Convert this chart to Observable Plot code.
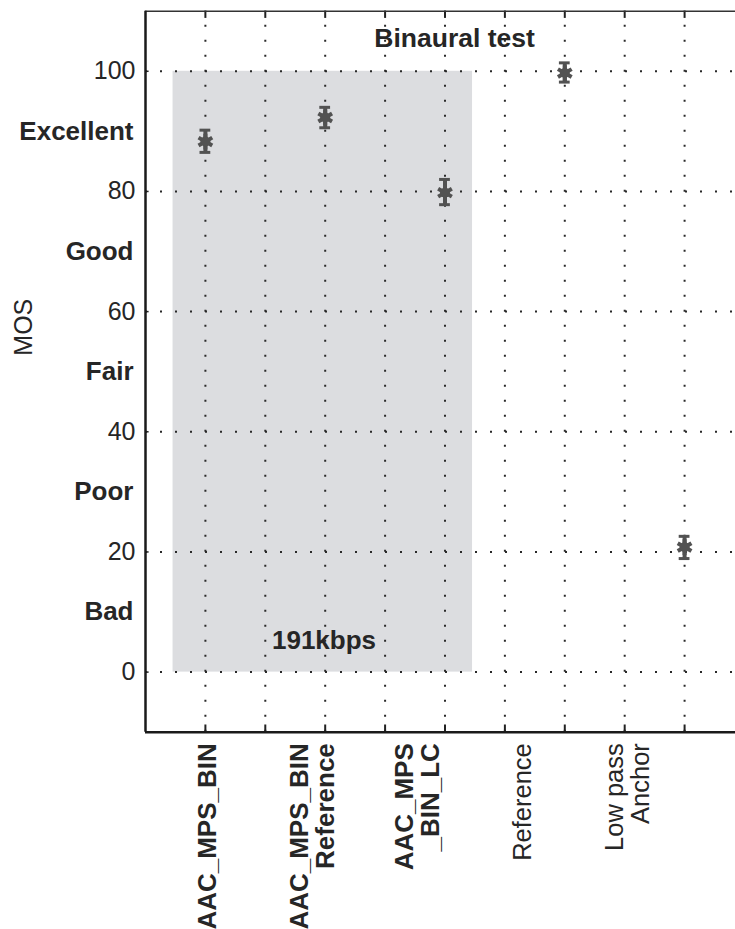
<!DOCTYPE html>
<html>
<head>
<meta charset="utf-8">
<script src="https://cdn.jsdelivr.net/npm/d3@7"></script>
<script src="https://cdn.jsdelivr.net/npm/@observablehq/plot@0.6"></script>
<style>
  html, body { margin: 0; padding: 0; background: #fff; overflow: hidden; }
  svg { display: block; }
</style>
</head>
<body>
<div id="chart"></div>
<script>
// Listening-test results: mean opinion score with confidence interval per condition
const conditions = ["AAC_MPS_BIN", "AAC_MPS_BIN\nReference", "AAC_MPS\n_BIN_LC", "Reference", "Low pass\nAnchor"];
const boldLabel = [true, true, true, false, false];
const mos = [88.3, 92.3, 79.8, 99.7, 20.8];
const ciLow = [86.5, 90.6, 77.8, 98.2, 18.9];
const ciHigh = [90.2, 94.0, 82.0, 101.4, 22.6];

const yTicks = [0, 20, 40, 60, 80, 100];
const qualityLabels = ["Bad", "Poor", "Fair", "Good", "Excellent"];
const qualityLevels = [10, 30, 50, 70, 90];
const gridX = [1, 1.5, 2, 2.5, 3, 3.5, 4, 4.5, 5];

const title = "Binaural test";
const bitrateNote = "191kbps";
const yLabel = "MOS";

const points = conditions.map((c, i) => ({
  pos: i + 1, label: c, bold: boldLabel[i], mos: mos[i], lo: ciLow[i], hi: ciHigh[i]
}));
// condition names sit on their own, slightly narrower spacing under the axis
const labelRows = points.map((d, i) => ({...d, lx: 1.017 + i * 0.877}));
const quality = qualityLabels.map((q, i) => ({q, v: qualityLevels[i]}));

const ink = "#262626";
const markColor = "#525252";
const dots = {stroke: "#2a2a2a", strokeWidth: 2, strokeDasharray: "2 13"};

const chart = Plot.plot({
  width: 735,
  height: 929,
  marginLeft: 145,
  marginRight: 0,
  marginTop: 10.7,
  marginBottom: 197.3,
  style: {fontFamily: "'Liberation Sans', Arial, Helvetica, sans-serif", background: "#fff"},
  x: {domain: [0.5, 5.425], axis: null},
  y: {domain: [-10, 110], axis: null},
  marks: [
    // shaded block of the 191 kbps conditions
    Plot.rect([{x1: 0.73, x2: 3.23, y1: 0, y2: 100}], {x1: "x1", x2: "x2", y1: "y1", y2: "y2", fill: "#dcdde0"}),
    // dotted grid
    Plot.ruleY(yTicks, {...dots}),
    Plot.ruleX(gridX, {y1: -10, y2: 110, ...dots}),
    // tick marks on the frame
    Plot.ruleX(gridX, {y1: 110, y2: 108.8, stroke: "#222", strokeWidth: 2}),
    Plot.ruleX(gridX, {y1: -10, y2: -8.8, stroke: "#222", strokeWidth: 2}),
    Plot.ruleY(yTicks, {x1: 0.5, x2: 0.53, stroke: "#222", strokeWidth: 1.5}),
    // frame
    Plot.ruleY([110], {stroke: "#333", strokeWidth: 1.5}),
    Plot.ruleY([-10], {stroke: "#1a1a1a", strokeWidth: 2.5}),
    Plot.ruleX([0.5], {stroke: "#1a1a1a", strokeWidth: 2.5}),
    // y tick values and quality scale
    Plot.text(yTicks, {frameAnchor: "left", y: d => d, text: d => String(d), dx: -10, textAnchor: "end", fontSize: 25, fill: ink}),
    Plot.text(quality, {frameAnchor: "left", y: "v", text: "q", dx: -12, textAnchor: "end", fontSize: 26, fontWeight: "bold", fill: ink}),
    Plot.text([yLabel], {frameAnchor: "left", dx: -122, dy: -16, rotate: -90, fontSize: 25, fill: ink}),
    // annotations
    Plot.text([title], {x: 3.08, y: 105.5, fontSize: 26.5, fontWeight: "bold", fill: ink}),
    Plot.text([bitrateNote], {x: 1.99, y: 5.2, fontSize: 26, fontWeight: "bold", fill: ink}),
    // confidence intervals and means
    Plot.ruleX(points, {x: "pos", y1: "lo", y2: "hi", stroke: markColor, strokeWidth: 4}),
    Plot.ruleY(points, {y: "hi", x1: d => d.pos - 0.045, x2: d => d.pos + 0.045, stroke: markColor, strokeWidth: 3}),
    Plot.ruleY(points, {y: "lo", x1: d => d.pos - 0.045, x2: d => d.pos + 0.045, stroke: markColor, strokeWidth: 3}),
    Plot.dot(points, {x: "pos", y: "mos", symbol: "asterisk", r: 7.5, stroke: markColor, strokeWidth: 4}),
    Plot.dot(points, {x: "pos", y: "mos", r: 5, fill: markColor}),
    // condition names
    Plot.text(labelRows.filter(d => d.bold), {x: "lx", text: "label", frameAnchor: "bottom", dy: 11, rotate: -90, textAnchor: "end", lineAnchor: "middle", fontSize: 26, fontWeight: "bold", fill: ink}),
    Plot.text(labelRows.filter(d => !d.bold), {x: "lx", text: "label", frameAnchor: "bottom", dy: 11, rotate: -90, textAnchor: "end", lineAnchor: "middle", fontSize: 25.5, fill: ink})
  ]
});
document.getElementById("chart").appendChild(chart);
</script>
</body>
</html>
